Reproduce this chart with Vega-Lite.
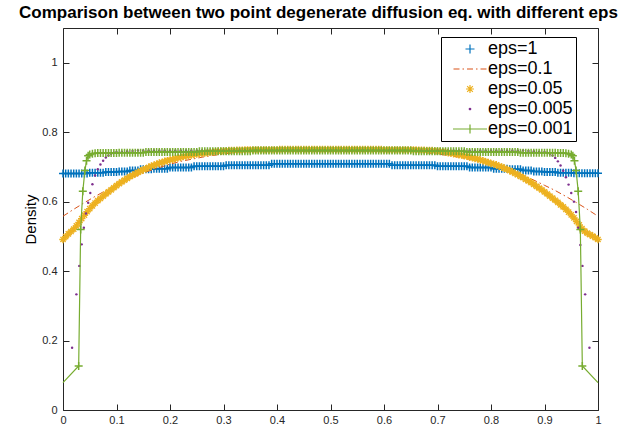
{
"$schema": "https://vega.github.io/schema/vega-lite/v6.json",
"width": 535,
"height": 382,
"autosize": {"type": "none"},
"padding": {"left": 63, "top": 28, "right": 41, "bottom": 15},
"background": "white",
"title": {"text": "Comparison between two point degenerate diffusion eq. with different eps", "fontSize": 17, "fontWeight": "bold", "color": "black", "anchor": "middle", "dx": -12, "offset": 6, "font": "Liberation Sans"},
"config": {
  "font": "Liberation Sans",
  "view": {"stroke": null},
  "axis": {"grid": false, "domainColor": "#262626", "tickColor": "#262626", "labelColor": "#262626", "labelFontSize": 11, "tickSize": -6, "domainWidth": 1, "tickWidth": 1, "labelFont": "Liberation Sans"}
},
"datasets": {
"blue": [
{"x":0,"y":0.681},{"x":0.005,"y":0.681},{"x":0.01,"y":0.681},{"x":0.015,"y":0.681},{"x":0.02,"y":0.681},{"x":0.025,"y":0.681},{"x":0.03,"y":0.681},{"x":0.035,"y":0.681},{"x":0.04,"y":0.681},{"x":0.045,"y":0.681},
{"x":0.05,"y":0.683},{"x":0.055,"y":0.683},{"x":0.06,"y":0.683},{"x":0.065,"y":0.683},{"x":0.07,"y":0.683},{"x":0.075,"y":0.683},
{"x":0.08,"y":0.685},{"x":0.085,"y":0.685},{"x":0.09,"y":0.685},{"x":0.095,"y":0.685},{"x":0.1,"y":0.685},
{"x":0.105,"y":0.687},{"x":0.11,"y":0.687},{"x":0.115,"y":0.687},{"x":0.12,"y":0.687},
{"x":0.125,"y":0.69},{"x":0.13,"y":0.69},{"x":0.135,"y":0.69},{"x":0.14,"y":0.69},
{"x":0.145,"y":0.693},{"x":0.15,"y":0.693},{"x":0.155,"y":0.693},{"x":0.16,"y":0.693},{"x":0.165,"y":0.693},
{"x":0.17,"y":0.695},{"x":0.175,"y":0.695},{"x":0.18,"y":0.695},{"x":0.185,"y":0.695},{"x":0.19,"y":0.695},{"x":0.195,"y":0.695},
{"x":0.2,"y":0.698},{"x":0.205,"y":0.698},{"x":0.21,"y":0.698},{"x":0.215,"y":0.698},{"x":0.22,"y":0.698},{"x":0.225,"y":0.698},{"x":0.23,"y":0.698},{"x":0.235,"y":0.698},{"x":0.24,"y":0.698},
{"x":0.245,"y":0.702},{"x":0.25,"y":0.702},{"x":0.255,"y":0.702},{"x":0.26,"y":0.702},{"x":0.265,"y":0.702},{"x":0.27,"y":0.702},{"x":0.275,"y":0.702},{"x":0.28,"y":0.702},{"x":0.285,"y":0.702},{"x":0.29,"y":0.702},{"x":0.295,"y":0.702},{"x":0.3,"y":0.702},
{"x":0.305,"y":0.705},{"x":0.31,"y":0.705},{"x":0.315,"y":0.705},{"x":0.32,"y":0.705},{"x":0.325,"y":0.705},{"x":0.33,"y":0.705},{"x":0.335,"y":0.705},{"x":0.34,"y":0.705},{"x":0.345,"y":0.705},{"x":0.35,"y":0.705},{"x":0.355,"y":0.705},{"x":0.36,"y":0.705},{"x":0.365,"y":0.705},{"x":0.37,"y":0.705},{"x":0.375,"y":0.705},{"x":0.38,"y":0.705},{"x":0.385,"y":0.705},
{"x":0.39,"y":0.709},{"x":0.395,"y":0.709},{"x":0.4,"y":0.709},{"x":0.405,"y":0.709},{"x":0.41,"y":0.709},{"x":0.415,"y":0.709},{"x":0.42,"y":0.709},{"x":0.425,"y":0.709},{"x":0.43,"y":0.709},{"x":0.435,"y":0.709},{"x":0.44,"y":0.709},{"x":0.445,"y":0.709},{"x":0.45,"y":0.709},{"x":0.455,"y":0.709},{"x":0.46,"y":0.709},{"x":0.465,"y":0.709},{"x":0.47,"y":0.709},{"x":0.475,"y":0.709},{"x":0.48,"y":0.709},{"x":0.485,"y":0.709},{"x":0.49,"y":0.709},{"x":0.495,"y":0.709},{"x":0.5,"y":0.709},{"x":0.505,"y":0.709},{"x":0.51,"y":0.709},{"x":0.515,"y":0.709},{"x":0.52,"y":0.709},{"x":0.525,"y":0.709},{"x":0.53,"y":0.709},{"x":0.535,"y":0.709},{"x":0.54,"y":0.709},{"x":0.545,"y":0.709},{"x":0.55,"y":0.709},{"x":0.555,"y":0.709},{"x":0.56,"y":0.709},{"x":0.565,"y":0.709},{"x":0.57,"y":0.709},{"x":0.575,"y":0.709},{"x":0.58,"y":0.709},{"x":0.585,"y":0.709},{"x":0.59,"y":0.709},{"x":0.595,"y":0.709},{"x":0.6,"y":0.709},{"x":0.605,"y":0.709},{"x":0.61,"y":0.709},
{"x":0.615,"y":0.705},{"x":0.62,"y":0.705},{"x":0.625,"y":0.705},{"x":0.63,"y":0.705},{"x":0.635,"y":0.705},{"x":0.64,"y":0.705},{"x":0.645,"y":0.705},{"x":0.65,"y":0.705},{"x":0.655,"y":0.705},{"x":0.66,"y":0.705},{"x":0.665,"y":0.705},{"x":0.67,"y":0.705},{"x":0.675,"y":0.705},{"x":0.68,"y":0.705},{"x":0.685,"y":0.705},{"x":0.69,"y":0.705},{"x":0.695,"y":0.705},
{"x":0.7,"y":0.702},{"x":0.705,"y":0.702},{"x":0.71,"y":0.702},{"x":0.715,"y":0.702},{"x":0.72,"y":0.702},{"x":0.725,"y":0.702},{"x":0.73,"y":0.702},{"x":0.735,"y":0.702},{"x":0.74,"y":0.702},{"x":0.745,"y":0.702},{"x":0.75,"y":0.702},{"x":0.755,"y":0.702},
{"x":0.76,"y":0.698},{"x":0.765,"y":0.698},{"x":0.77,"y":0.698},{"x":0.775,"y":0.698},{"x":0.78,"y":0.698},{"x":0.785,"y":0.698},{"x":0.79,"y":0.698},{"x":0.795,"y":0.698},{"x":0.8,"y":0.698},
{"x":0.805,"y":0.695},{"x":0.81,"y":0.695},{"x":0.815,"y":0.695},{"x":0.82,"y":0.695},{"x":0.825,"y":0.695},{"x":0.83,"y":0.695},
{"x":0.835,"y":0.693},{"x":0.84,"y":0.693},{"x":0.845,"y":0.693},{"x":0.85,"y":0.693},{"x":0.855,"y":0.693},
{"x":0.86,"y":0.69},{"x":0.865,"y":0.69},{"x":0.87,"y":0.69},{"x":0.875,"y":0.69},
{"x":0.88,"y":0.687},{"x":0.885,"y":0.687},{"x":0.89,"y":0.687},{"x":0.895,"y":0.687},
{"x":0.9,"y":0.685},{"x":0.905,"y":0.685},{"x":0.91,"y":0.685},{"x":0.915,"y":0.685},{"x":0.92,"y":0.685},
{"x":0.925,"y":0.683},{"x":0.93,"y":0.683},{"x":0.935,"y":0.683},{"x":0.94,"y":0.683},{"x":0.945,"y":0.683},{"x":0.95,"y":0.683},
{"x":0.955,"y":0.682},{"x":0.96,"y":0.682},{"x":0.965,"y":0.682},{"x":0.97,"y":0.682},{"x":0.975,"y":0.682},{"x":0.98,"y":0.682},{"x":0.985,"y":0.682},{"x":0.99,"y":0.682},{"x":0.995,"y":0.682},{"x":1,"y":0.682}
],
"orange": [
{"x":0,"y":0.558},{"x":0.02,"y":0.578},{"x":0.04,"y":0.597},{"x":0.06,"y":0.615},{"x":0.08,"y":0.632},{"x":0.1,"y":0.647},{"x":0.12,"y":0.662},{"x":0.14,"y":0.676},{"x":0.16,"y":0.688},{"x":0.18,"y":0.698},{"x":0.2,"y":0.708},{"x":0.22,"y":0.716},{"x":0.24,"y":0.722},{"x":0.26,"y":0.728},{"x":0.28,"y":0.733},{"x":0.3,"y":0.737},{"x":0.32,"y":0.741},{"x":0.34,"y":0.744},{"x":0.36,"y":0.746},{"x":0.38,"y":0.748},{"x":0.4,"y":0.749},{"x":0.42,"y":0.75},{"x":0.44,"y":0.75},{"x":0.46,"y":0.75},{"x":0.48,"y":0.75},{"x":0.5,"y":0.75},{"x":0.52,"y":0.75},{"x":0.54,"y":0.75},{"x":0.56,"y":0.75},{"x":0.58,"y":0.75},{"x":0.6,"y":0.749},{"x":0.62,"y":0.748},{"x":0.64,"y":0.746},{"x":0.66,"y":0.744},{"x":0.68,"y":0.741},{"x":0.7,"y":0.737},{"x":0.72,"y":0.733},{"x":0.74,"y":0.728},{"x":0.76,"y":0.722},{"x":0.78,"y":0.716},{"x":0.8,"y":0.708},{"x":0.82,"y":0.698},{"x":0.84,"y":0.688},{"x":0.86,"y":0.676},{"x":0.88,"y":0.662},{"x":0.9,"y":0.647},{"x":0.92,"y":0.632},{"x":0.94,"y":0.615},{"x":0.96,"y":0.597},{"x":0.98,"y":0.578},{"x":1,"y":0.558}
],
"yellow": [
{"x":0,"y":0.491},{"x":0.005,"y":0.499},{"x":0.01,"y":0.507},{"x":0.015,"y":0.514},{"x":0.02,"y":0.521},{"x":0.025,"y":0.53},{"x":0.03,"y":0.54},{"x":0.035,"y":0.551},{"x":0.04,"y":0.561},{"x":0.045,"y":0.571},
{"x":0.05,"y":0.58},{"x":0.055,"y":0.588},{"x":0.06,"y":0.596},{"x":0.065,"y":0.603},{"x":0.07,"y":0.609},{"x":0.075,"y":0.616},{"x":0.08,"y":0.622},{"x":0.085,"y":0.628},{"x":0.09,"y":0.634},{"x":0.095,"y":0.64},
{"x":0.1,"y":0.646},{"x":0.105,"y":0.652},{"x":0.11,"y":0.657},{"x":0.115,"y":0.662},{"x":0.12,"y":0.667},{"x":0.125,"y":0.672},{"x":0.13,"y":0.676},{"x":0.135,"y":0.68},{"x":0.14,"y":0.684},{"x":0.145,"y":0.688},
{"x":0.15,"y":0.692},{"x":0.155,"y":0.695},{"x":0.16,"y":0.699},{"x":0.165,"y":0.702},{"x":0.17,"y":0.705},{"x":0.175,"y":0.708},{"x":0.18,"y":0.711},{"x":0.185,"y":0.713},{"x":0.19,"y":0.716},{"x":0.195,"y":0.718},
{"x":0.2,"y":0.72},{"x":0.205,"y":0.722},{"x":0.21,"y":0.724},{"x":0.215,"y":0.726},{"x":0.22,"y":0.728},{"x":0.225,"y":0.73},{"x":0.23,"y":0.731},{"x":0.235,"y":0.733},{"x":0.24,"y":0.734},{"x":0.245,"y":0.736},
{"x":0.25,"y":0.737},{"x":0.255,"y":0.738},{"x":0.26,"y":0.739},{"x":0.265,"y":0.74},{"x":0.27,"y":0.741},{"x":0.275,"y":0.742},{"x":0.28,"y":0.743},{"x":0.285,"y":0.744},{"x":0.29,"y":0.745},{"x":0.295,"y":0.745},
{"x":0.3,"y":0.746},{"x":0.305,"y":0.746},{"x":0.31,"y":0.747},{"x":0.315,"y":0.747},{"x":0.32,"y":0.747},{"x":0.325,"y":0.748},{"x":0.33,"y":0.748},{"x":0.335,"y":0.748},
{"x":0.34,"y":0.749},{"x":0.345,"y":0.749},{"x":0.35,"y":0.749},{"x":0.355,"y":0.749},{"x":0.36,"y":0.749},{"x":0.365,"y":0.749},{"x":0.37,"y":0.749},{"x":0.375,"y":0.749},{"x":0.38,"y":0.749},{"x":0.385,"y":0.749},{"x":0.39,"y":0.749},{"x":0.395,"y":0.749},{"x":0.4,"y":0.749},
{"x":0.405,"y":0.75},{"x":0.41,"y":0.75},{"x":0.415,"y":0.75},{"x":0.42,"y":0.75},{"x":0.425,"y":0.75},{"x":0.43,"y":0.75},{"x":0.435,"y":0.75},{"x":0.44,"y":0.75},{"x":0.445,"y":0.75},{"x":0.45,"y":0.75},{"x":0.455,"y":0.75},{"x":0.46,"y":0.75},{"x":0.465,"y":0.75},{"x":0.47,"y":0.75},{"x":0.475,"y":0.75},{"x":0.48,"y":0.75},{"x":0.485,"y":0.75},{"x":0.49,"y":0.75},{"x":0.495,"y":0.75},{"x":0.5,"y":0.75},{"x":0.505,"y":0.75},{"x":0.51,"y":0.75},{"x":0.515,"y":0.75},{"x":0.52,"y":0.75},{"x":0.525,"y":0.75},{"x":0.53,"y":0.75},{"x":0.535,"y":0.75},{"x":0.54,"y":0.75},{"x":0.545,"y":0.75},{"x":0.55,"y":0.75},{"x":0.555,"y":0.75},{"x":0.56,"y":0.75},{"x":0.565,"y":0.75},{"x":0.57,"y":0.75},{"x":0.575,"y":0.75},{"x":0.58,"y":0.75},{"x":0.585,"y":0.75},{"x":0.59,"y":0.75},{"x":0.595,"y":0.75},
{"x":0.6,"y":0.749},{"x":0.605,"y":0.749},{"x":0.61,"y":0.749},{"x":0.615,"y":0.749},{"x":0.62,"y":0.749},{"x":0.625,"y":0.749},{"x":0.63,"y":0.749},{"x":0.635,"y":0.749},{"x":0.64,"y":0.749},{"x":0.645,"y":0.749},{"x":0.65,"y":0.749},{"x":0.655,"y":0.749},{"x":0.66,"y":0.749},
{"x":0.665,"y":0.748},{"x":0.67,"y":0.748},{"x":0.675,"y":0.748},{"x":0.68,"y":0.747},{"x":0.685,"y":0.747},{"x":0.69,"y":0.747},{"x":0.695,"y":0.746},{"x":0.7,"y":0.746},
{"x":0.705,"y":0.745},{"x":0.71,"y":0.744},{"x":0.715,"y":0.743},{"x":0.72,"y":0.741},{"x":0.725,"y":0.74},{"x":0.73,"y":0.738},{"x":0.735,"y":0.737},{"x":0.74,"y":0.735},{"x":0.745,"y":0.734},
{"x":0.75,"y":0.732},{"x":0.755,"y":0.731},{"x":0.76,"y":0.728},{"x":0.765,"y":0.727},{"x":0.77,"y":0.724},{"x":0.775,"y":0.723},{"x":0.78,"y":0.72},{"x":0.785,"y":0.718},{"x":0.79,"y":0.715},{"x":0.795,"y":0.713},
{"x":0.8,"y":0.71},{"x":0.805,"y":0.708},{"x":0.81,"y":0.706},{"x":0.815,"y":0.702},{"x":0.82,"y":0.7},{"x":0.825,"y":0.696},{"x":0.83,"y":0.693},{"x":0.835,"y":0.689},{"x":0.84,"y":0.686},{"x":0.845,"y":0.681},
{"x":0.85,"y":0.678},{"x":0.855,"y":0.673},{"x":0.86,"y":0.669},{"x":0.865,"y":0.664},{"x":0.87,"y":0.66},{"x":0.875,"y":0.655},{"x":0.88,"y":0.65},{"x":0.885,"y":0.644},{"x":0.89,"y":0.639},{"x":0.895,"y":0.634},
{"x":0.9,"y":0.628},{"x":0.905,"y":0.622},{"x":0.91,"y":0.616},{"x":0.915,"y":0.61},{"x":0.92,"y":0.604},{"x":0.925,"y":0.598},{"x":0.93,"y":0.591},{"x":0.935,"y":0.585},{"x":0.94,"y":0.578},{"x":0.945,"y":0.57},
{"x":0.95,"y":0.562},{"x":0.955,"y":0.553},{"x":0.96,"y":0.543},{"x":0.965,"y":0.533},{"x":0.97,"y":0.522},{"x":0.975,"y":0.515},{"x":0.98,"y":0.509},{"x":0.985,"y":0.505},{"x":0.99,"y":0.501},{"x":0.995,"y":0.496},{"x":1,"y":0.491}
],
"purple": [
{"x":0.017,"y":0.179},{"x":0.025,"y":0.333},{"x":0.0305,"y":0.415},{"x":0.035,"y":0.477},{"x":0.039,"y":0.525},{"x":0.043,"y":0.566},{"x":0.047,"y":0.597},{"x":0.051,"y":0.625},{"x":0.055,"y":0.65},{"x":0.06,"y":0.675},{"x":0.065,"y":0.693},{"x":0.07,"y":0.707},{"x":0.075,"y":0.718},{"x":0.08,"y":0.727},{"x":0.085,"y":0.733},{"x":0.09,"y":0.738},{"x":0.095,"y":0.741},{"x":0.1,"y":0.743},
{"x":0.11,"y":0.744},{"x":0.12,"y":0.745},{"x":0.13,"y":0.746},{"x":0.14,"y":0.747},{"x":0.15,"y":0.747},{"x":0.16,"y":0.747},{"x":0.17,"y":0.747},{"x":0.18,"y":0.747},{"x":0.19,"y":0.747},{"x":0.2,"y":0.747},{"x":0.21,"y":0.747},{"x":0.22,"y":0.747},{"x":0.23,"y":0.747},{"x":0.24,"y":0.747},{"x":0.25,"y":0.747},{"x":0.26,"y":0.747},{"x":0.27,"y":0.747},{"x":0.28,"y":0.747},{"x":0.29,"y":0.747},{"x":0.3,"y":0.747},{"x":0.31,"y":0.747},{"x":0.32,"y":0.747},{"x":0.33,"y":0.747},{"x":0.34,"y":0.747},{"x":0.35,"y":0.747},{"x":0.36,"y":0.747},{"x":0.37,"y":0.747},{"x":0.38,"y":0.747},{"x":0.39,"y":0.747},{"x":0.4,"y":0.747},{"x":0.41,"y":0.747},{"x":0.42,"y":0.747},{"x":0.43,"y":0.747},{"x":0.44,"y":0.747},{"x":0.45,"y":0.747},{"x":0.46,"y":0.747},{"x":0.47,"y":0.747},{"x":0.48,"y":0.747},{"x":0.49,"y":0.747},{"x":0.5,"y":0.747},{"x":0.51,"y":0.747},{"x":0.52,"y":0.747},{"x":0.53,"y":0.747},{"x":0.54,"y":0.747},{"x":0.55,"y":0.747},{"x":0.56,"y":0.747},{"x":0.57,"y":0.747},{"x":0.58,"y":0.747},{"x":0.59,"y":0.747},{"x":0.6,"y":0.747},{"x":0.61,"y":0.747},{"x":0.62,"y":0.747},{"x":0.63,"y":0.747},{"x":0.64,"y":0.747},{"x":0.65,"y":0.747},{"x":0.66,"y":0.747},{"x":0.67,"y":0.747},{"x":0.68,"y":0.747},{"x":0.69,"y":0.747},{"x":0.7,"y":0.747},{"x":0.71,"y":0.747},{"x":0.72,"y":0.747},{"x":0.73,"y":0.747},{"x":0.74,"y":0.747},{"x":0.75,"y":0.747},{"x":0.76,"y":0.747},{"x":0.77,"y":0.747},{"x":0.78,"y":0.747},{"x":0.79,"y":0.747},{"x":0.8,"y":0.747},{"x":0.81,"y":0.747},{"x":0.82,"y":0.747},{"x":0.83,"y":0.747},{"x":0.84,"y":0.747},{"x":0.85,"y":0.747},{"x":0.86,"y":0.747},{"x":0.87,"y":0.746},{"x":0.88,"y":0.745},{"x":0.89,"y":0.744},
{"x":0.9,"y":0.743},{"x":0.905,"y":0.741},{"x":0.91,"y":0.738},{"x":0.915,"y":0.733},{"x":0.92,"y":0.726},{"x":0.925,"y":0.716},{"x":0.93,"y":0.704},{"x":0.935,"y":0.689},{"x":0.94,"y":0.67},{"x":0.945,"y":0.649},{"x":0.95,"y":0.625},{"x":0.955,"y":0.6},{"x":0.959,"y":0.57},{"x":0.963,"y":0.525},{"x":0.967,"y":0.475},{"x":0.971,"y":0.415},{"x":0.976,"y":0.333},{"x":0.984,"y":0.179}
],
"green": [
{"x":0,"y":0.079},{"x":0.0293,"y":0.127},{"x":0.033,"y":0.52},{"x":0.037,"y":0.63},{"x":0.041,"y":0.69},{"x":0.044,"y":0.718},{"x":0.047,"y":0.732},
{"x":0.05,"y":0.736},{"x":0.055,"y":0.738},{"x":0.06,"y":0.739},
{"x":0.065,"y":0.74},{"x":0.07,"y":0.74},{"x":0.075,"y":0.74},{"x":0.08,"y":0.74},{"x":0.085,"y":0.74},{"x":0.09,"y":0.74},{"x":0.095,"y":0.74},{"x":0.1,"y":0.74},
{"x":0.105,"y":0.741},{"x":0.11,"y":0.741},{"x":0.115,"y":0.741},{"x":0.12,"y":0.741},{"x":0.125,"y":0.741},{"x":0.13,"y":0.741},{"x":0.135,"y":0.741},{"x":0.14,"y":0.741},{"x":0.145,"y":0.741},{"x":0.15,"y":0.741},
{"x":0.155,"y":0.743},{"x":0.16,"y":0.743},{"x":0.165,"y":0.743},{"x":0.17,"y":0.743},{"x":0.175,"y":0.743},{"x":0.18,"y":0.743},{"x":0.185,"y":0.743},{"x":0.19,"y":0.743},{"x":0.195,"y":0.743},{"x":0.2,"y":0.743},{"x":0.205,"y":0.743},{"x":0.21,"y":0.743},{"x":0.215,"y":0.743},{"x":0.22,"y":0.743},{"x":0.225,"y":0.743},{"x":0.23,"y":0.743},{"x":0.235,"y":0.743},{"x":0.24,"y":0.743},{"x":0.245,"y":0.743},{"x":0.25,"y":0.743},
{"x":0.255,"y":0.745},{"x":0.26,"y":0.745},{"x":0.265,"y":0.745},{"x":0.27,"y":0.745},{"x":0.275,"y":0.745},{"x":0.28,"y":0.745},{"x":0.285,"y":0.745},{"x":0.29,"y":0.745},{"x":0.295,"y":0.745},{"x":0.3,"y":0.745},{"x":0.305,"y":0.745},{"x":0.31,"y":0.745},{"x":0.315,"y":0.745},{"x":0.32,"y":0.745},{"x":0.325,"y":0.745},{"x":0.33,"y":0.745},{"x":0.335,"y":0.745},{"x":0.34,"y":0.745},{"x":0.345,"y":0.745},{"x":0.35,"y":0.745},
{"x":0.355,"y":0.747},{"x":0.36,"y":0.747},{"x":0.365,"y":0.747},{"x":0.37,"y":0.747},{"x":0.375,"y":0.747},{"x":0.38,"y":0.747},{"x":0.385,"y":0.747},{"x":0.39,"y":0.747},{"x":0.395,"y":0.747},{"x":0.4,"y":0.747},{"x":0.405,"y":0.747},{"x":0.41,"y":0.747},{"x":0.415,"y":0.747},{"x":0.42,"y":0.747},{"x":0.425,"y":0.747},{"x":0.43,"y":0.747},{"x":0.435,"y":0.747},{"x":0.44,"y":0.747},{"x":0.445,"y":0.747},{"x":0.45,"y":0.747},{"x":0.455,"y":0.747},{"x":0.46,"y":0.747},{"x":0.465,"y":0.747},{"x":0.47,"y":0.747},{"x":0.475,"y":0.747},{"x":0.48,"y":0.747},{"x":0.485,"y":0.747},{"x":0.49,"y":0.747},{"x":0.495,"y":0.747},{"x":0.5,"y":0.747},{"x":0.505,"y":0.747},{"x":0.51,"y":0.747},{"x":0.515,"y":0.747},{"x":0.52,"y":0.747},{"x":0.525,"y":0.747},{"x":0.53,"y":0.747},{"x":0.535,"y":0.747},{"x":0.54,"y":0.747},{"x":0.545,"y":0.747},{"x":0.55,"y":0.747},{"x":0.555,"y":0.747},{"x":0.56,"y":0.747},{"x":0.565,"y":0.747},{"x":0.57,"y":0.747},{"x":0.575,"y":0.747},{"x":0.58,"y":0.747},{"x":0.585,"y":0.747},{"x":0.59,"y":0.747},{"x":0.595,"y":0.747},{"x":0.6,"y":0.747},{"x":0.605,"y":0.747},{"x":0.61,"y":0.747},{"x":0.615,"y":0.747},{"x":0.62,"y":0.747},{"x":0.625,"y":0.747},{"x":0.63,"y":0.747},{"x":0.635,"y":0.747},{"x":0.64,"y":0.747},{"x":0.645,"y":0.747},{"x":0.65,"y":0.747},
{"x":0.655,"y":0.745},{"x":0.66,"y":0.745},{"x":0.665,"y":0.745},{"x":0.67,"y":0.745},{"x":0.675,"y":0.745},{"x":0.68,"y":0.745},{"x":0.685,"y":0.745},{"x":0.69,"y":0.745},{"x":0.695,"y":0.745},{"x":0.7,"y":0.745},{"x":0.705,"y":0.745},{"x":0.71,"y":0.745},{"x":0.715,"y":0.745},{"x":0.72,"y":0.745},{"x":0.725,"y":0.745},{"x":0.73,"y":0.745},{"x":0.735,"y":0.745},{"x":0.74,"y":0.745},{"x":0.745,"y":0.745},{"x":0.75,"y":0.745},
{"x":0.755,"y":0.743},{"x":0.76,"y":0.743},{"x":0.765,"y":0.743},{"x":0.77,"y":0.743},{"x":0.775,"y":0.743},{"x":0.78,"y":0.743},{"x":0.785,"y":0.743},{"x":0.79,"y":0.743},{"x":0.795,"y":0.743},{"x":0.8,"y":0.743},{"x":0.805,"y":0.743},{"x":0.81,"y":0.743},{"x":0.815,"y":0.743},{"x":0.82,"y":0.743},{"x":0.825,"y":0.743},{"x":0.83,"y":0.743},{"x":0.835,"y":0.743},{"x":0.84,"y":0.743},{"x":0.845,"y":0.743},{"x":0.85,"y":0.743},
{"x":0.855,"y":0.741},{"x":0.86,"y":0.741},{"x":0.865,"y":0.741},{"x":0.87,"y":0.741},{"x":0.875,"y":0.741},{"x":0.88,"y":0.741},{"x":0.885,"y":0.741},{"x":0.89,"y":0.741},{"x":0.895,"y":0.741},{"x":0.9,"y":0.741},{"x":0.905,"y":0.741},{"x":0.91,"y":0.741},{"x":0.915,"y":0.741},{"x":0.92,"y":0.741},
{"x":0.925,"y":0.74},{"x":0.93,"y":0.74},{"x":0.935,"y":0.74},{"x":0.94,"y":0.739},{"x":0.945,"y":0.738},{"x":0.95,"y":0.736},
{"x":0.953,"y":0.732},{"x":0.956,"y":0.718},{"x":0.959,"y":0.69},{"x":0.963,"y":0.63},{"x":0.967,"y":0.52},{"x":0.9707,"y":0.127},{"x":1,"y":0.079}
],
"leg": [{"s":"eps=1"},{"s":"eps=0.1"},{"s":"eps=0.05"},{"s":"eps=0.005"},{"s":"eps=0.001"}]
},
"resolve": {"axis": {"x": "independent", "y": "independent"}},
"layer": [
{"data": {"name": "blue"},
 "mark": {"type": "point", "shape": "M-1,0L1,0M0,-1L0,1", "size": 64, "filled": false, "color": "#0072BD", "strokeWidth": 1.5, "opacity": 1},
 "encoding": {
  "x": {"field": "x", "type": "quantitative", "scale": {"domain": [0, 1]}, "axis": {"orient": "bottom", "values": [0,0.1,0.2,0.3,0.4,0.5,0.6,0.7,0.8,0.9,1], "format": "~g", "title": null, "labelPadding": 10, "labelFlush": false, "labelOverlap": false}},
  "y": {"field": "y", "type": "quantitative", "scale": {"domain": [0, 1.1]}, "axis": {"orient": "left", "values": [0,0.2,0.4,0.6,0.8,1], "format": "~g", "title": "Density", "titleFontSize": 15, "titleFontWeight": "normal", "titleColor": "black", "titleFont": "Liberation Sans", "titlePadding": 3, "labelPadding": 12, "labelFlush": false}}
 }},
{"data": {"name": "orange"},
 "mark": {"type": "line", "color": "#D95319", "strokeWidth": 1, "strokeDash": [6, 3, 1.5, 3]},
 "encoding": {
  "x": {"field": "x", "type": "quantitative", "scale": {"domain": [0, 1]}, "axis": null},
  "y": {"field": "y", "type": "quantitative", "scale": {"domain": [0, 1.1]}, "axis": null}
 }},
{"data": {"name": "yellow"},
 "mark": {"type": "point", "shape": "M-1,0L1,0M0,-1L0,1M-0.7,-0.7L0.7,0.7M-0.7,0.7L0.7,-0.7", "size": 56, "filled": false, "color": "#EDB120", "strokeWidth": 1.4, "opacity": 1},
 "encoding": {
  "x": {"field": "x", "type": "quantitative", "scale": {"domain": [0, 1]}, "axis": null},
  "y": {"field": "y", "type": "quantitative", "scale": {"domain": [0, 1.1]}, "axis": null}
 }},
{"data": {"name": "purple"},
 "mark": {"type": "circle", "size": 6, "color": "#7E2F8E", "opacity": 1},
 "encoding": {
  "x": {"field": "x", "type": "quantitative", "scale": {"domain": [0, 1]}, "axis": null},
  "y": {"field": "y", "type": "quantitative", "scale": {"domain": [0, 1.1]}, "axis": null}
 }},
{"data": {"name": "green"},
 "mark": {"type": "line", "color": "#77AC30", "strokeWidth": 1.2},
 "encoding": {
  "x": {"field": "x", "type": "quantitative", "scale": {"domain": [0, 1]}, "axis": null},
  "y": {"field": "y", "type": "quantitative", "scale": {"domain": [0, 1.1]}, "axis": null}
 }},
{"data": {"name": "green"},
 "transform": [{"filter": "datum.x > 0 && datum.x < 1"}],
 "mark": {"type": "point", "shape": "M-1,0L1,0M0,-1L0,1", "size": 64, "filled": false, "color": "#77AC30", "strokeWidth": 1.5, "opacity": 1},
 "encoding": {
  "x": {"field": "x", "type": "quantitative", "scale": {"domain": [0, 1]}, "axis": null},
  "y": {"field": "y", "type": "quantitative", "scale": {"domain": [0, 1.1]}, "axis": null}
 }},
{"data": {"name": "leg"},
 "transform": [{"filter": "false"}],
 "mark": {"type": "point", "filled": false, "size": 100, "strokeWidth": 1.2, "opacity": 1},
 "encoding": {
  "x": {"field": "x", "type": "quantitative", "scale": {"domain": [0, 1]}, "axis": {"orient": "top", "values": [0,0.1,0.2,0.3,0.4,0.5,0.6,0.7,0.8,0.9,1], "labels": false, "title": null}},
  "y": {"field": "y", "type": "quantitative", "scale": {"domain": [0, 1.1]}, "axis": {"orient": "right", "values": [0,0.2,0.4,0.6,0.8,1], "labels": false, "title": null}},
  "color": {"field": "s", "type": "nominal",
    "scale": {"domain": ["eps=1","eps=0.1","eps=0.05","eps=0.005","eps=0.001"], "range": ["#0072BD","#D95319","#EDB120","#7E2F8E","#77AC30"]},
    "legend": {"orient": "none", "legendX": 378, "legendY": 9, "title": null, "labelFontSize": 18, "labelColor": "black", "labelFont": "Liberation Sans", "labelExpr": "datum.label + '  '", "symbolSize": 100, "symbolStrokeWidth": 1.2, "strokeColor": "black", "fillColor": "white", "padding": 3, "rowPadding": 2, "symbolOffset": 17, "labelOffset": 9, "cornerRadius": 0}},
  "shape": {"field": "s", "type": "nominal",
    "scale": {"domain": ["eps=1","eps=0.1","eps=0.05","eps=0.005","eps=0.001"], "range": ["M-0.9,0L0.9,0M0,-0.9L0,0.9", "M-3.3,0L-2.1,0M-1.5,0L-1.2,0M-0.6,0L0.6,0M1.2,0L1.5,0M2.1,0L3.3,0", "M-0.8,0L0.8,0M0,-0.8L0,0.8M-0.57,-0.57L0.57,0.57M-0.57,0.57L0.57,-0.57", "M-0.15,0A0.15,0.15 0 1,0 0.15,0A0.15,0.15 0 1,0 -0.15,0", "M-3.4,0L3.4,0M0,-0.9L0,0.9"]},
    "legend": {"orient": "none", "legendX": 378, "legendY": 9, "title": null, "labelFontSize": 18, "labelColor": "black", "labelFont": "Liberation Sans", "labelExpr": "datum.label + '  '", "symbolSize": 100, "symbolStrokeWidth": 1.2, "strokeColor": "black", "fillColor": "white", "padding": 3, "rowPadding": 2, "symbolOffset": 17, "labelOffset": 9, "cornerRadius": 0}}
 }}
]
}
